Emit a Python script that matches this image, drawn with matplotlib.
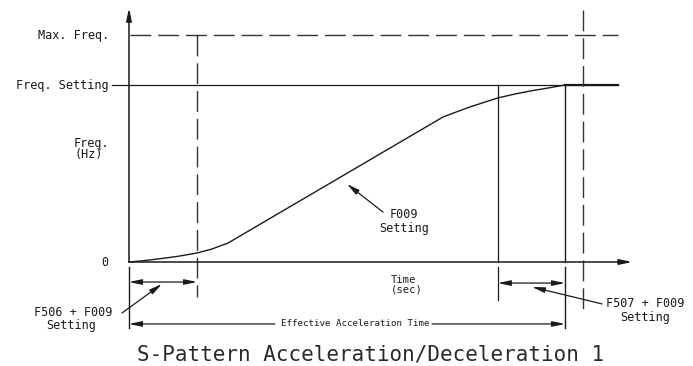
import matplotlib
matplotlib.use("Agg")
import matplotlib.pyplot as plt

# S-curve acceleration profile: time (s) vs. output frequency (fraction of setting)
curve_time = [0.0, 0.32, 0.665, 0.94, 1.17, 1.56, 1.90, 2.27,
              7.20, 7.50, 7.82, 8.46, 8.85, 9.20, 9.61, 10.0, 11.22]
curve_freq = [0.0, 0.007, 0.017, 0.026, 0.034, 0.051, 0.073, 0.107,
              0.819, 0.847, 0.876, 0.927, 0.949, 0.966, 0.983, 1.0, 1.0]

freq_setting = 1.0
max_freq = 1.28
t_s_start = 1.56        # end of the initial S-segment (F506 + F009)
t_s_end_begin = 8.46    # start of the final S-segment (F507 + F009)
t_accel_end = 10.0      # effective acceleration time
t_marker = 10.41        # dashed reference after acceleration
t_axis_end = 11.54
t_line_end = 11.22
f_axis_top = 1.435

INK = "#1a1a1a"
DASH = "#333333"
MONO = "DejaVu Sans Mono"

fig = plt.figure(figsize=(6.93, 3.66), dpi=100)
ax = fig.add_axes([0, 0, 1, 1])
ax.set_xlim(-129 / 43.6, (693 - 129) / 43.6)
ax.set_ylim(-104 / 177, (366 - 104) / 177)
ax.axis("off")

arrow_kw = dict(arrowstyle="-|>,head_length=0.75,head_width=0.16",
                color=INK, lw=0.9, shrinkA=0, shrinkB=0, mutation_scale=10)
dim_kw = dict(arrowstyle="<|-|>,head_length=0.75,head_width=0.16",
              color=INK, lw=0.9, shrinkA=0, shrinkB=0, mutation_scale=10)

# axes with arrows
ax.annotate("", xy=(0, f_axis_top), xytext=(0, 0), arrowprops=dict(arrow_kw, lw=1.1))
ax.annotate("", xy=(t_axis_end, 0), xytext=(0, 0), arrowprops=dict(arrow_kw, lw=1.1))

# frequency reference lines
ax.plot([-0.39, t_line_end], [freq_setting, freq_setting], color=INK, lw=0.9)
ax.plot([0.02, t_line_end], [max_freq, max_freq], color=DASH, lw=1.0, dashes=(15, 5))

# output curve
ax.plot(curve_time, curve_freq, color=INK, lw=1.0)
ax.plot([t_accel_end, t_line_end], [freq_setting, freq_setting], color=INK, lw=1.6)

# vertical markers
ax.plot([t_s_start, t_s_start], [max_freq, -0.198], color=DASH, lw=1.0, dashes=(15, 5))
ax.plot([t_marker, t_marker], [1.424, -0.282], color=DASH, lw=1.0, dashes=(15, 5))
ax.plot([t_s_end_begin] * 2, [freq_setting, 0], color=INK, lw=0.9)
ax.plot([t_s_end_begin] * 2, [-0.028, -0.215], color=INK, lw=0.9)
ax.plot([t_accel_end] * 2, [freq_setting, 0], color=INK, lw=1.0)
ax.plot([t_accel_end] * 2, [-0.028, -0.373], color=INK, lw=1.0)
ax.plot([0, 0], [-0.028, -0.373], color=INK, lw=1.0)

# dimension arrows
ax.annotate("", xy=(0, -0.113), xytext=(t_s_start, -0.113), arrowprops=dim_kw)
ax.annotate("", xy=(t_s_end_begin, -0.119), xytext=(t_accel_end, -0.119), arrowprops=dim_kw)
ax.annotate("", xy=(0, -0.350), xytext=(3.35, -0.350), arrowprops=arrow_kw)
ax.annotate("", xy=(t_accel_end, -0.350), xytext=(6.95, -0.350), arrowprops=arrow_kw)
ax.text(5.19, -0.350, "Effective Acceleration Time", family=MONO, fontsize=6.6,
        ha="center", va="center", color=INK)

# leaders
ax.annotate("", xy=(0.757, -0.124), xytext=(-0.16, -0.288), arrowprops=arrow_kw)
ax.annotate("", xy=(4.998, 0.441), xytext=(5.826, 0.282), arrowprops=arrow_kw)
ax.annotate("", xy=(9.243, -0.141), xytext=(10.85, -0.237), arrowprops=arrow_kw)

# labels
lab = dict(family=MONO, fontsize=8.5, color=INK)
ax.text(-0.46, max_freq, "Max. Freq.", ha="right", va="center", **lab)
ax.text(-0.46, freq_setting, "Freq. Setting", ha="right", va="center", **lab)
ax.text(-1.26, 0.672, "Freq.", ha="left", va="center", **lab)
ax.text(-1.26, 0.605, "(Hz)", ha="left", va="center", **lab)
ax.text(-0.55, 0.0, "0", ha="center", va="center", **lab)
ax.text(-1.29, -0.288, "F506 + F009", ha="center", va="center", **lab)
ax.text(-1.33, -0.356, "Setting", ha="center", va="center", **lab)
ax.text(6.31, 0.266, "F009", ha="center", va="center", **lab)
ax.text(6.31, 0.192, "Setting", ha="center", va="center", **lab)
ax.text(6.0, -0.102, "Time", ha="left", va="center", family=MONO, fontsize=7.6, color=INK)
ax.text(6.0, -0.158, "(sec)", ha="left", va="center", family=MONO, fontsize=7.6, color=INK)
ax.text(11.84, -0.237, "F507 + F009", ha="center", va="center", **lab)
ax.text(11.84, -0.311, "Setting", ha="center", va="center", **lab)

ax.text(5.53, -0.520, "S-Pattern Acceleration/Deceleration 1", family=MONO,
        fontsize=15, ha="center", va="center", color="#2a2a2a")

fig.savefig("out.png", dpi=100)
